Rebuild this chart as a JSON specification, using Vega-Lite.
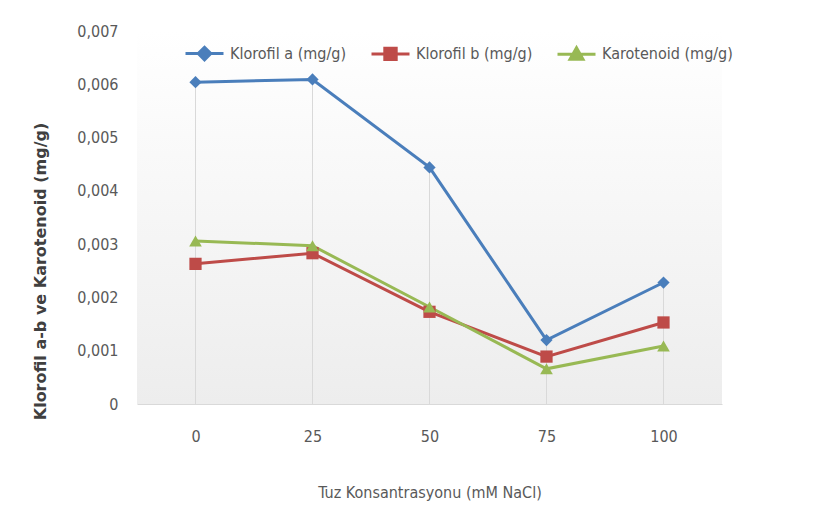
{
  "$schema": "https://vega.github.io/schema/vega-lite/v6.json",
  "autosize": {"type": "none"},
  "padding": {"left": 137, "top": 31, "right": 110, "bottom": 128},
  "width": 585,
  "height": 373,
  "background": "#ffffff",
  "config": {
    "view": {
      "stroke": null,
      "fill": {"gradient": "linear", "x1": 0, "y1": 0, "x2": 0, "y2": 1,
        "stops": [{"offset": 0, "color": "#ffffff"}, {"offset": 1, "color": "#ededed"}]}
    },
    "font": "Liberation Sans Narrow, DejaVu Sans Condensed, sans-serif"
  },
  "data": {
    "values": [
      {"nacl": 0, "series": "Klorofil a (mg/g)", "value": 0.00604},
      {"nacl": 25, "series": "Klorofil a (mg/g)", "value": 0.00609},
      {"nacl": 50, "series": "Klorofil a (mg/g)", "value": 0.00444},
      {"nacl": 75, "series": "Klorofil a (mg/g)", "value": 0.0012},
      {"nacl": 100, "series": "Klorofil a (mg/g)", "value": 0.00228},
      {"nacl": 0, "series": "Klorofil b (mg/g)", "value": 0.00263},
      {"nacl": 25, "series": "Klorofil b (mg/g)", "value": 0.00283},
      {"nacl": 50, "series": "Klorofil b (mg/g)", "value": 0.00173},
      {"nacl": 75, "series": "Klorofil b (mg/g)", "value": 0.00089},
      {"nacl": 100, "series": "Klorofil b (mg/g)", "value": 0.00153},
      {"nacl": 0, "series": "Karotenoid (mg/g)", "value": 0.00306},
      {"nacl": 25, "series": "Karotenoid (mg/g)", "value": 0.00297},
      {"nacl": 50, "series": "Karotenoid (mg/g)", "value": 0.00182},
      {"nacl": 75, "series": "Karotenoid (mg/g)", "value": 0.00066},
      {"nacl": 100, "series": "Karotenoid (mg/g)", "value": 0.00109}
    ]
  },
  "encoding": {
    "x": {
      "field": "nacl", "type": "ordinal",
      "scale": {"type": "point", "padding": 0.5},
      "axis": {
        "title": "Tuz Konsantrasyonu (mM NaCl)",
        "labelAngle": 0,
        "labelFontSize": 16, "labelColor": "#595959", "labelPadding": 24,
        "ticks": false, "domainColor": "#d9d9d9", "domainWidth": 1,
        "titleFontSize": 16, "titleFontWeight": "normal", "titleColor": "#595959", "titlePadding": 40
      }
    },
    "y": {
      "field": "value", "type": "quantitative",
      "scale": {"domain": [0, 0.007], "nice": false},
      "axis": {
        "title": "Klorofil a-b ve Karotenoid (mg/g)",
        "values": [0, 0.001, 0.002, 0.003, 0.004, 0.005, 0.006, 0.007],
        "labelExpr": "datum.value == 0 ? '0' : replace(format(datum.value, '.3f'), '.', ',')",
        "labelFontSize": 16, "labelColor": "#595959", "labelPadding": 19,
        "ticks": false, "domain": false, "grid": false,
        "titleFont": "DejaVu Sans", "titleFontSize": 16, "titleFontWeight": "bold", "titleColor": "#404040",
        "titleX": -97, "titleY": 240, "titleAngle": -90, "titleAlign": "center", "titleBaseline": "middle"
      }
    }
  },
  "layer": [
    {
      "mark": {"type": "rule", "color": "#d9d9d9", "strokeWidth": 1},
      "encoding": {
        "y": {"aggregate": "max", "field": "value", "type": "quantitative"},
        "y2": {"datum": 0}
      }
    },
    {
      "mark": {"type": "line", "strokeWidth": 3},
      "encoding": {
        "color": {
          "field": "series", "type": "nominal",
          "scale": {"domain": ["Klorofil a (mg/g)", "Klorofil b (mg/g)", "Karotenoid (mg/g)"], "range": ["#4a7ebb", "#be4b48", "#98b954"]},
          "legend": {
            "title": null, "orient": "none", "direction": "horizontal",
            "legendX": 47, "legendY": 2, "padding": 0,
            "symbolSize": 1444, "symbolStrokeWidth": 3,
            "labelFontSize": 16, "labelColor": "#595959", "labelOffset": 5,
            "columnPadding": 18,
            "encode": {
              "symbols": {
                "update": {
                  "shape": {"signal": "datum.value == 'Klorofil a (mg/g)' ? 'M-1,0H1M0,-0.33L0.33,0L0,0.33L-0.33,0Z' : datum.value == 'Klorofil b (mg/g)' ? 'M-1,0H1M-0.3,-0.3H0.3V0.3H-0.3Z' : 'M-1,0H1M0,-0.34L0.34,0.26L-0.34,0.26Z'"},
                  "fill": {"signal": "datum.value == 'Klorofil a (mg/g)' ? '#4a7ebb' : datum.value == 'Klorofil b (mg/g)' ? '#be4b48' : '#98b954'"},
                  "stroke": {"signal": "datum.value == 'Klorofil a (mg/g)' ? '#4a7ebb' : datum.value == 'Klorofil b (mg/g)' ? '#be4b48' : '#98b954'"},
                  "strokeWidth": {"value": 3},
                  "opacity": {"value": 1},
                  "fillOpacity": {"value": 1}
                }
              }
            }
          }
        }
      }
    },
    {
      "transform": [{"filter": "datum.series == 'Klorofil a (mg/g)'"}],
      "mark": {"type": "point", "filled": true, "opacity": 1, "size": 150, "shape": "diamond", "color": "#4a7ebb"}
    },
    {
      "transform": [{"filter": "datum.series == 'Klorofil b (mg/g)'"}],
      "mark": {"type": "point", "filled": true, "opacity": 1, "size": 150, "shape": "square", "color": "#be4b48"}
    },
    {
      "transform": [{"filter": "datum.series == 'Karotenoid (mg/g)'"}],
      "mark": {"type": "point", "filled": true, "opacity": 1, "size": 160, "shape": "triangle-up", "color": "#98b954"}
    }
  ]
}
